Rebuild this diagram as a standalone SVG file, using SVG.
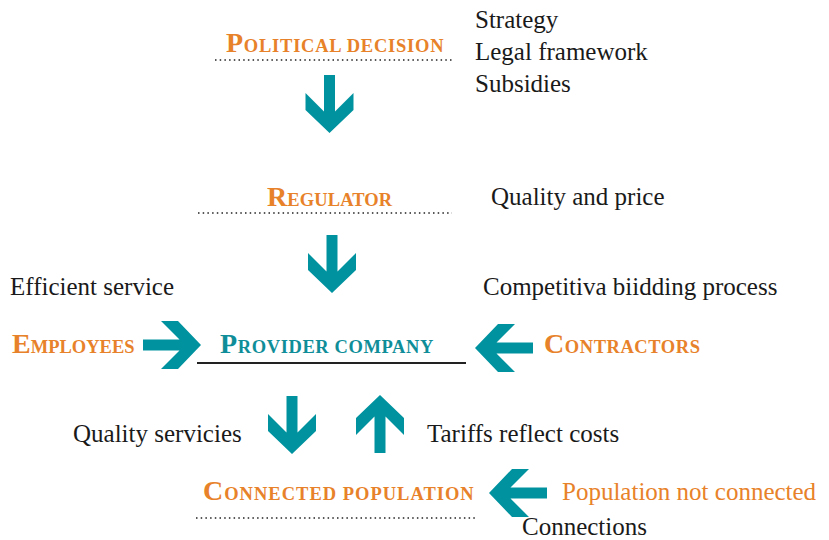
<svg xmlns="http://www.w3.org/2000/svg" xmlns:xlink="http://www.w3.org/1999/xlink" width="829" height="540" viewBox="0 0 829 540">
  <style>
    .title { fill: #E8822A; font-weight: bold; }
    .title .cap { font-size: 28px; }
    .title .sc { font-size: 18.5px; }
    .teal { fill: #0F8E99; }
    .label { font-size: 25px; fill: #1a1a1a; }
    .orange-label { font-size: 25px; fill: #E8822A; }
    .dots { stroke: #222; stroke-width: 1.6; stroke-dasharray: 1.5 3.2; fill: none; }
    .rule { stroke: #222; stroke-width: 2; fill: none; }
    .arrow { fill: #00939F; }
  </style>
  <defs>
    <!-- block arrow pointing down, tail at origin -->
    <path id="arr" class="arrow" d="M-5.5,0 L5.5,0 L5.5,36.5 L24,18 L24,35 L0,58 L-24,35 L-24,18 L-5.5,36.5 Z"/>
  </defs>

  <rect width="829" height="540" fill="#ffffff"/>

  <g id="political-decision">
    <text class="title" x="226" y="52" letter-spacing="0.75" font-family="Liberation Serif" style="font-family: Liberation Serif"><tspan class="cap">P</tspan><tspan class="sc">OLITICAL DECISION</tspan></text>
    <line class="dots" x1="215" y1="60" x2="453" y2="60"/>
  </g>

  <g id="regulator">
    <text class="title" x="267" y="206" letter-spacing="0.1" font-family="Liberation Serif" style="font-family: Liberation Serif"><tspan class="cap">R</tspan><tspan class="sc">EGULATOR</tspan></text>
    <line class="dots" x1="198" y1="213" x2="452" y2="213"/>
  </g>

  <g id="employees">
    <text class="title" x="12" y="353" font-family="Liberation Serif" style="font-family: Liberation Serif"><tspan class="cap">E</tspan><tspan class="sc">MPLOYEES</tspan></text>
  </g>

  <g id="provider-company">
    <text class="title teal" x="220" y="353" letter-spacing="0.6" font-family="Liberation Serif" style="font-family: Liberation Serif"><tspan class="cap">P</tspan><tspan class="sc">ROVIDER COMPANY</tspan></text>
    <line class="rule" x1="197" y1="363" x2="466" y2="363"/>
  </g>

  <g id="contractors">
    <text class="title" x="544" y="353" letter-spacing="0.55" font-family="Liberation Serif" style="font-family: Liberation Serif"><tspan class="cap">C</tspan><tspan class="sc">ONTRACTORS</tspan></text>
  </g>

  <g id="connected-population">
    <text class="title" x="203" y="500" letter-spacing="1" font-family="Liberation Serif" style="font-family: Liberation Serif"><tspan class="cap">C</tspan><tspan class="sc">ONNECTED POPULATION</tspan></text>
    <line class="dots" x1="196" y1="518" x2="477" y2="518"/>
  </g>

  <g id="population-not-connected">
    <text class="orange-label" x="562" y="500" font-family="Liberation Serif" style="font-family: Liberation Serif">Population not connected</text>
  </g>

  <g id="connectors">
    <use xlink:href="#arr" transform="translate(329.5,75)"/>
    <use xlink:href="#arr" transform="translate(332,235)"/>
    <use xlink:href="#arr" transform="translate(143,345) rotate(-90)"/>
    <use xlink:href="#arr" transform="translate(533,348) rotate(90)"/>
    <use xlink:href="#arr" transform="translate(292,396)"/>
    <use xlink:href="#arr" transform="translate(380,453) rotate(180)"/>
    <use xlink:href="#arr" transform="translate(547,493) rotate(90)"/>
  </g>

  <g id="labels">
    <text class="label" x="475" y="28" font-family="Liberation Serif" style="font-family: Liberation Serif">Strategy</text>
    <text class="label" x="475" y="60" font-family="Liberation Serif" style="font-family: Liberation Serif">Legal framework</text>
    <text class="label" x="475" y="92" font-family="Liberation Serif" style="font-family: Liberation Serif">Subsidies</text>
    <text class="label" x="491" y="205" font-family="Liberation Serif" style="font-family: Liberation Serif">Quality and price</text>
    <text class="label" x="10" y="295" font-family="Liberation Serif" style="font-family: Liberation Serif">Efficient service</text>
    <text class="label" x="483" y="295" font-family="Liberation Serif" style="font-family: Liberation Serif">Competitiva biidding process</text>
    <text class="label" x="73" y="442" font-family="Liberation Serif" style="font-family: Liberation Serif">Quality servicies</text>
    <text class="label" x="427" y="442" font-family="Liberation Serif" style="font-family: Liberation Serif">Tariffs reflect costs</text>
    <text class="label" x="522" y="535" font-family="Liberation Serif" style="font-family: Liberation Serif">Connections</text>
  </g>
</svg>
